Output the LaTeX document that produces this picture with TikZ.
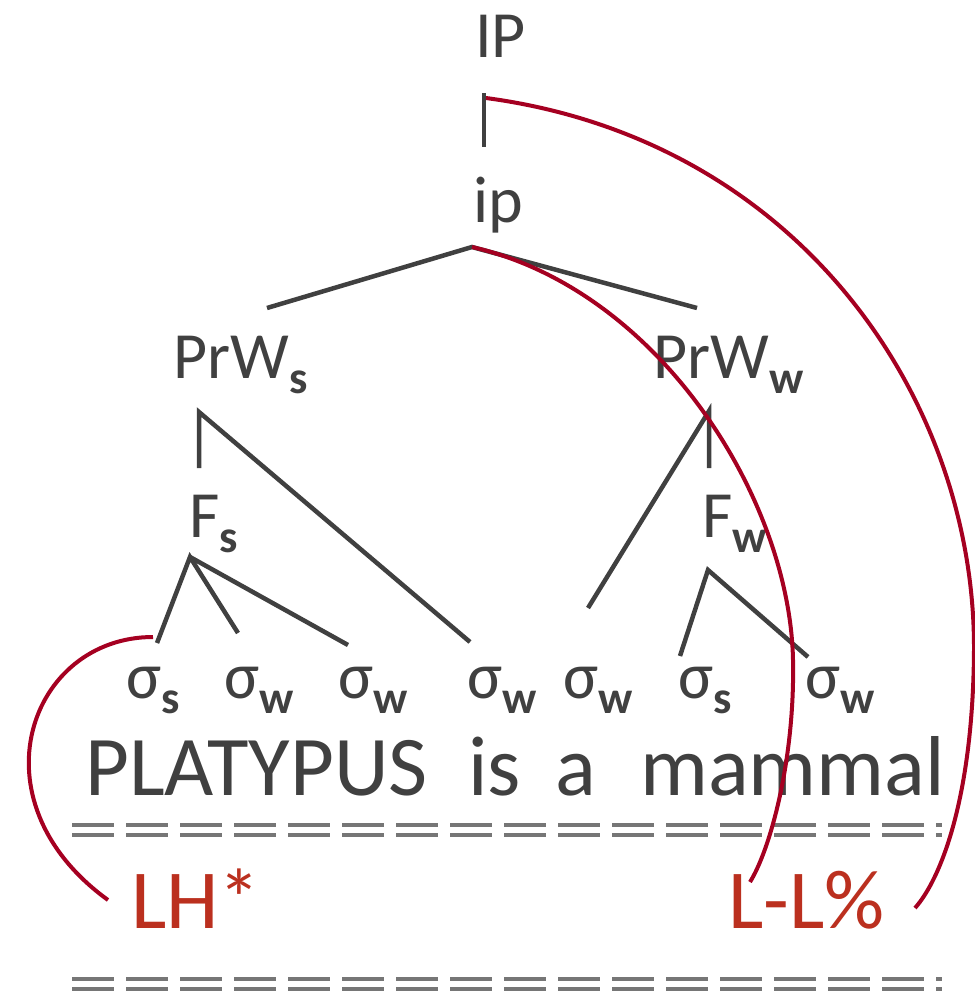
\documentclass[tikz,border=0pt]{standalone}
\usepackage{fontspec}
\setmainfont{Carlito}
\definecolor{treegray}{RGB}{64,64,64}
\definecolor{dashgray}{RGB}{118,118,118}
\definecolor{curvered}{RGB}{165,0,33}
\definecolor{tonered}{RGB}{187,48,31}
\newcommand{\sbx}[1]{\raisebox{-15pt}{\fontsize{46}{46}\selectfont\bfseries #1}}
\tikzset{
  lbl/.style={inner sep=0pt, anchor=base west, text=treegray, font=\fontsize{66}{70}\selectfont},
  word/.style={inner sep=0pt, anchor=base west, text=treegray, font=\fontsize{85}{90}\selectfont},
  tone/.style={inner sep=0pt, anchor=base west, text=tonered, font=\fontsize{84}{90}\selectfont},
  branch/.style={draw=treegray, line width=4.5pt},
  assoc/.style={draw=curvered, line width=4pt},
  sep/.style={draw=dashgray, line width=4pt, dash pattern=on 42pt off 12pt}
}
\begin{document}
\begin{tikzpicture}[x=1pt,y=-1pt]
\useasboundingbox (0,0) rectangle (975,994);
% labels
\node[lbl] (IP) at (475,57) {IP};
\node[lbl] (ip) at (473,222) {ip};
\node[lbl] (PrWs) at (173,378) {PrW\sbx{s}};
\node[lbl] (PrWw) at (653,378) {PrW\sbx{w}};
\node[lbl] (Fs) at (189,537) {F\sbx{s}};
\node[lbl] (Fw) at (702,537) {F\sbx{w}};
\node[lbl] (s1) at (126,698) {σ\sbx{s}};
\node[lbl] (s2) at (224,698) {σ\sbx{w}};
\node[lbl] (s3) at (338,698) {σ\sbx{w}};
\node[lbl] (s4) at (467,698) {σ\sbx{w}};
\node[lbl] (s5) at (563,698) {σ\sbx{w}};
\node[lbl] (s6) at (678,698) {σ\sbx{s}};
\node[lbl] (s7) at (805,698) {σ\sbx{w}};
% words
\node[word] (w1) at (85,795) {PLATYPUS};
\node[word] (w2) at (468,795) {is};
\node[word] (w3) at (555,795) {a};
\node[word] (w4) at (640,795) {mammal};
% tones
\node[tone] (LH) at (131,928) {LH*};
\node[tone] (LL) at (728,928) {L-L\%};
% branch points
\coordinate (IPb) at (484,93);
\coordinate (ipt) at (484,147);
\coordinate (ipb) at (472,247);
\coordinate (PrWst) at (267,308);
\coordinate (PrWwt) at (697,308);
\coordinate (PrWsb) at (199,412);
\coordinate (Fst) at (199,468);
\coordinate (s4t) at (470,642);
\coordinate (PrWwb) at (709,411);
\coordinate (Fwt) at (709,468);
\coordinate (s5t) at (588,608);
\coordinate (Fsb) at (190,557);
\coordinate (s1t) at (157,643);
\coordinate (s2t) at (238,633);
\coordinate (s3t) at (348,645);
\coordinate (Fwb) at (708,570);
\coordinate (s6t) at (680,656);
\coordinate (s7t) at (808,657);
\draw[branch] (IPb) -- (ipt);
\draw[branch] (PrWst) -- (ipb) -- (PrWwt);
\draw[branch] (Fst) -- (PrWsb) -- (s4t);
\draw[branch] (Fwt) -- (PrWwb) -- (s5t);
\draw[branch] (s1t) -- (Fsb) -- (s2t);
\draw[branch] (Fsb) -- (s3t);
\draw[branch] (s6t) -- (Fwb) -- (s7t);
% separators
\draw[sep] (72,825) -- (942,825);
\draw[sep] (72,835) -- (942,835);
\draw[sep] (72,979) -- (942,979);
\draw[sep] (72,989) -- (942,989);
% association curves
\coordinate (c1s) at (153,637);
\coordinate (c1e) at (108,900);
\coordinate (c2e) at (750,882);
\coordinate (c3s) at (486,98);
\coordinate (c3e) at (915,908);
\draw[assoc] (c1s) .. controls (30,637) and (-30,800) .. (c1e);
\draw[assoc] (ipb) .. controls (660,290) and (790,500) .. (793,660) .. controls (795,760) and (770,850) .. (c2e);
\draw[assoc] (c3s) .. controls (800,140) and (975,400) .. (974,650) .. controls (973,800) and (940,880) .. (c3e);
\end{tikzpicture}
\end{document}
